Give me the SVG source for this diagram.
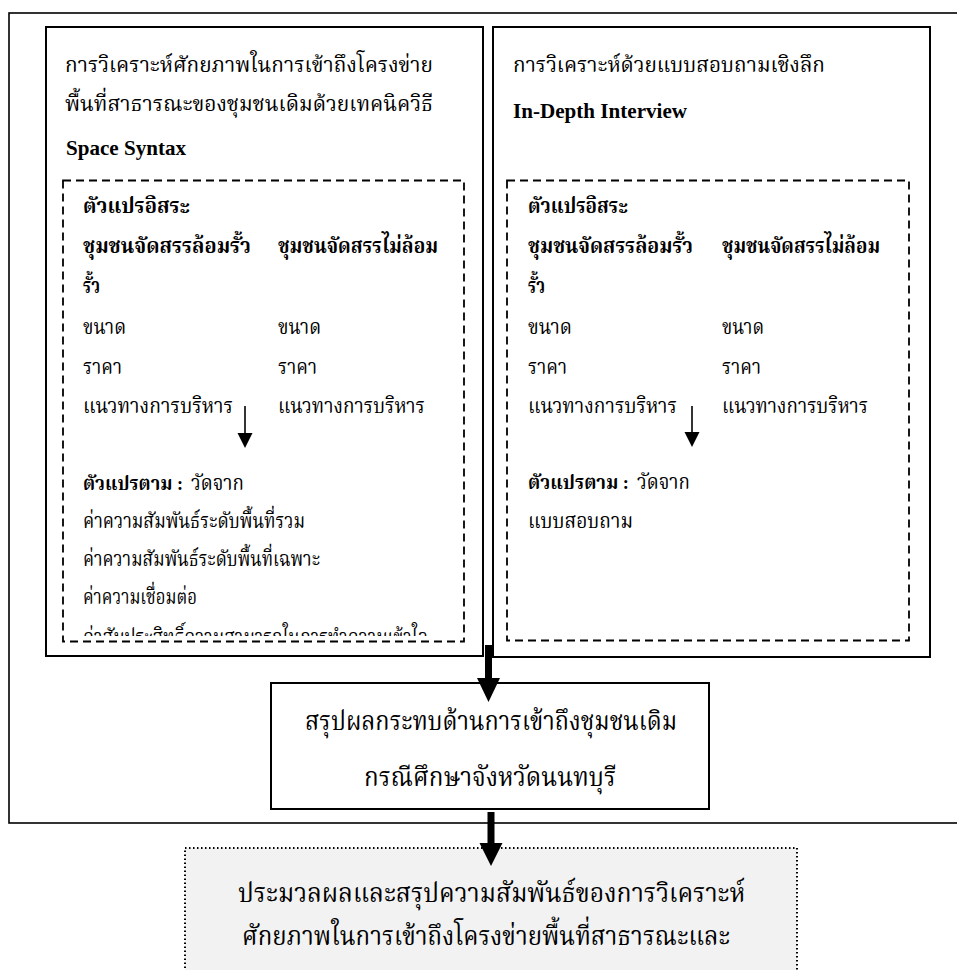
<svg xmlns="http://www.w3.org/2000/svg" width="957" height="970" viewBox="0 0 957 970">
<style>
  .box { fill: #ffffff; stroke: #000000; stroke-width: 2; }
  .dash { fill: none; stroke: #000000; stroke-width: 1.8; stroke-dasharray: 8 5; }
  .dot { fill: #f2f2f2; stroke: #000000; stroke-width: 2; stroke-dasharray: 1.5 2.5; }
  .t { font-family: "Liberation Serif", "Noto Serif Thai", "Noto Sans Thai", serif; font-size: 21px; fill: #000; }
  .h { font-family: "Liberation Serif", "Noto Serif Thai", "Noto Sans Thai", serif; font-size: 22px; fill: #000; }
  .b { font-weight: bold; }
  .lab { font-size: 19px; }
  .en { font-family: "Liberation Serif", serif; font-size: 21px; font-weight: bold; }
  .big { font-family: "Liberation Serif", "Noto Serif Thai", "Noto Sans Thai", serif; font-size: 27px; fill: #000; }
</style>
<defs>
  <clipPath id="clipL"><rect x="62" y="180" width="402" height="456"/></clipPath>
</defs>
<g id="outer"><rect x="9" y="13" width="980" height="810" fill="#fff" stroke="#000" stroke-width="1.6"/></g>
<g id="left-box">
  <rect class="box" x="46" y="27" width="437" height="629"/>
  <text class="h" x="65" y="72" textLength="368" lengthAdjust="spacingAndGlyphs">การวิเคราะห์ศักยภาพในการเข้าถึงโครงข่าย</text>
  <text class="h" x="65" y="111" textLength="368" lengthAdjust="spacingAndGlyphs">พื้นที่สาธารณะของชุมชนเดิมด้วยเทคนิควิธี</text>
  <text class="en" x="66" y="155" textLength="120" lengthAdjust="spacingAndGlyphs">Space Syntax</text>
</g>
<g id="left-vars">
  <rect class="dash" x="63" y="180.5" width="401" height="461"/>
  <g clip-path="url(#clipL)">
    <text class="t b" x="83" y="213" textLength="107" lengthAdjust="spacingAndGlyphs">ตัวแปรอิสระ</text>
    <text class="t b" x="83" y="253" textLength="168" lengthAdjust="spacingAndGlyphs">ชุมชนจัดสรรล้อมรั้ว</text>
    <text class="t b" x="278" y="253" textLength="160" lengthAdjust="spacingAndGlyphs">ชุมชนจัดสรรไม่ล้อม</text>
    <text class="t b" x="83" y="293" textLength="17" lengthAdjust="spacingAndGlyphs">รั้ว</text>
    <text class="t" x="83" y="334" textLength="43" lengthAdjust="spacingAndGlyphs">ขนาด</text>
    <text class="t" x="278" y="334" textLength="43" lengthAdjust="spacingAndGlyphs">ขนาด</text>
    <text class="t" x="83" y="374" textLength="39" lengthAdjust="spacingAndGlyphs">ราคา</text>
    <text class="t" x="278" y="374" textLength="39" lengthAdjust="spacingAndGlyphs">ราคา</text>
    <text class="t" x="83" y="413" textLength="150" lengthAdjust="spacingAndGlyphs">แนวทางการบริหาร</text>
    <text class="t" x="278" y="413" textLength="147" lengthAdjust="spacingAndGlyphs">แนวทางการบริหาร</text>
    <text class="t b lab" x="83" y="490" textLength="100" lengthAdjust="spacingAndGlyphs">ตัวแปรตาม :</text>
    <text class="t" x="191" y="490" textLength="53" lengthAdjust="spacingAndGlyphs">วัดจาก</text>
    <text class="t" x="83" y="528" textLength="222" lengthAdjust="spacingAndGlyphs">ค่าความสัมพันธ์ระดับพื้นที่รวม</text>
    <text class="t" x="83" y="566" textLength="237" lengthAdjust="spacingAndGlyphs">ค่าความสัมพันธ์ระดับพื้นที่เฉพาะ</text>
    <text class="t" x="83" y="604" textLength="114" lengthAdjust="spacingAndGlyphs">ค่าความเชื่อมต่อ</text>
    <text class="t" x="83" y="644" textLength="345" lengthAdjust="spacingAndGlyphs">ค่าสัมประสิทธิ์ความสามารถในการทำความเข้าใจ</text>
  </g>
</g>
<g id="right-box">
  <rect class="box" x="493" y="27" width="437" height="630"/>
  <text class="h" x="513" y="72" textLength="312" lengthAdjust="spacingAndGlyphs">การวิเคราะห์ด้วยแบบสอบถามเชิงลึก</text>
  <text class="en" x="513" y="118" textLength="174" lengthAdjust="spacingAndGlyphs">In-Depth Interview</text>
</g>
<g id="right-vars">
  <rect class="dash" x="507" y="180.5" width="402" height="460"/>
  <text class="t b" x="528" y="213" textLength="100" lengthAdjust="spacingAndGlyphs">ตัวแปรอิสระ</text>
  <text class="t b" x="528" y="253" textLength="165" lengthAdjust="spacingAndGlyphs">ชุมชนจัดสรรล้อมรั้ว</text>
  <text class="t b" x="722" y="253" textLength="158" lengthAdjust="spacingAndGlyphs">ชุมชนจัดสรรไม่ล้อม</text>
  <text class="t b" x="528" y="293" textLength="17" lengthAdjust="spacingAndGlyphs">รั้ว</text>
  <text class="t" x="528" y="334" textLength="44" lengthAdjust="spacingAndGlyphs">ขนาด</text>
  <text class="t" x="722" y="334" textLength="42" lengthAdjust="spacingAndGlyphs">ขนาด</text>
  <text class="t" x="528" y="374" textLength="39" lengthAdjust="spacingAndGlyphs">ราคา</text>
  <text class="t" x="722" y="374" textLength="39" lengthAdjust="spacingAndGlyphs">ราคา</text>
  <text class="t" x="528" y="413" textLength="149" lengthAdjust="spacingAndGlyphs">แนวทางการบริหาร</text>
  <text class="t" x="722" y="413" textLength="146" lengthAdjust="spacingAndGlyphs">แนวทางการบริหาร</text>
  <text class="t b lab" x="528" y="489" textLength="101" lengthAdjust="spacingAndGlyphs">ตัวแปรตาม :</text>
  <text class="t" x="637" y="489" textLength="53" lengthAdjust="spacingAndGlyphs">วัดจาก</text>
  <text class="t" x="528" y="528" textLength="105" lengthAdjust="spacingAndGlyphs">แบบสอบถาม</text>
</g>
<g id="summary">
  <rect class="box" x="271" y="683" width="438" height="126"/>
  <text class="big" x="305" y="730" textLength="372" lengthAdjust="spacingAndGlyphs">สรุปผลกระทบด้านการเข้าถึงชุมชนเดิม</text>
  <text class="big" x="364" y="786" textLength="252" lengthAdjust="spacingAndGlyphs">กรณีศึกษาจังหวัดนนทบุรี</text>
</g>
<g id="result">
  <rect class="dot" x="185" y="848" width="612" height="140"/>
  <text class="big" x="238" y="902" textLength="507" lengthAdjust="spacingAndGlyphs">ประมวลผลและสรุปความสัมพันธ์ของการวิเคราะห์</text>
  <text class="big" x="242" y="945" textLength="488" lengthAdjust="spacingAndGlyphs">ศักยภาพในการเข้าถึงโครงข่ายพื้นที่สาธารณะและ</text>
</g>
<g id="connectors">
  <line x1="245" y1="406" x2="245" y2="435" stroke="#000" stroke-width="1.6"/>
  <polygon points="237.5,433 252.5,433 245,448"/>
  <line x1="692" y1="406" x2="692" y2="434" stroke="#000" stroke-width="1.6"/>
  <polygon points="684.5,432 699.5,432 692,447"/>
  <rect x="485" y="645" width="7" height="35"/>
  <polygon points="477,678 500,678 488.5,702"/>
  <rect x="487.5" y="812" width="7" height="33"/>
  <polygon points="479.5,843 502.5,843 491,866"/>
</g>
</svg>
